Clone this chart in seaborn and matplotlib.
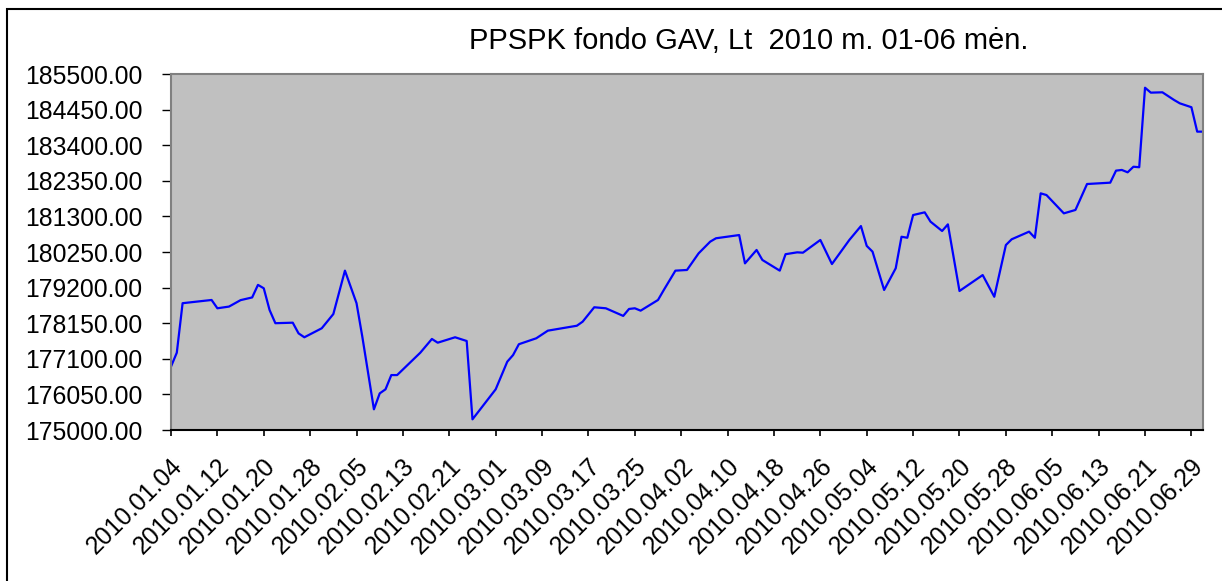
import matplotlib
matplotlib.use("Agg")
import matplotlib.pyplot as plt
import matplotlib.transforms as mtransforms
from matplotlib.patches import Rectangle
import seaborn as sns
import pandas as pd
import numpy as np

# ---- data ----
dates = [
    "2010-01-04", "2010-01-05", "2010-01-06", "2010-01-11", "2010-01-12", "2010-01-14",
    "2010-01-16", "2010-01-18", "2010-01-19", "2010-01-20", "2010-01-21", "2010-01-22",
    "2010-01-25", "2010-01-26", "2010-01-27", "2010-01-30", "2010-02-01", "2010-02-03",
    "2010-02-05", "2010-02-06", "2010-02-08", "2010-02-09", "2010-02-10", "2010-02-11",
    "2010-02-12", "2010-02-16", "2010-02-18", "2010-02-19", "2010-02-22", "2010-02-24",
    "2010-02-25", "2010-03-01", "2010-03-03", "2010-03-04", "2010-03-05", "2010-03-08",
    "2010-03-10", "2010-03-15", "2010-03-16", "2010-03-18", "2010-03-20", "2010-03-23",
    "2010-03-24", "2010-03-25", "2010-03-26", "2010-03-29", "2010-03-30", "2010-04-01",
    "2010-04-03", "2010-04-05", "2010-04-07", "2010-04-08", "2010-04-12", "2010-04-13",
    "2010-04-15", "2010-04-16", "2010-04-19", "2010-04-20", "2010-04-22", "2010-04-23",
    "2010-04-26", "2010-04-28", "2010-05-01", "2010-05-03", "2010-05-04", "2010-05-05",
    "2010-05-07", "2010-05-09", "2010-05-10", "2010-05-11", "2010-05-12", "2010-05-14",
    "2010-05-15", "2010-05-17", "2010-05-18", "2010-05-20", "2010-05-24", "2010-05-26",
    "2010-05-28", "2010-05-29", "2010-06-01", "2010-06-02", "2010-06-03", "2010-06-04",
    "2010-06-07", "2010-06-09", "2010-06-11", "2010-06-15", "2010-06-16", "2010-06-17",
    "2010-06-18", "2010-06-19", "2010-06-20", "2010-06-21", "2010-06-22", "2010-06-24",
    "2010-06-26", "2010-06-27", "2010-06-29", "2010-06-30", "2010-07-01",
]
gav = [
    176870, 177280, 178740, 178835, 178590, 178640,
    178830, 178910, 179280, 179180, 178540, 178150,
    178165, 177850, 177735, 178000, 178420, 179700,
    178740, 177750, 175610, 176080, 176200, 176620,
    176620, 177280, 177685, 177575, 177735, 177625,
    175315, 176200, 177015, 177210, 177530, 177705,
    177930, 178075, 178195, 178620, 178590, 178365,
    178570, 178590, 178520, 178835, 179130, 179700,
    179720, 180210, 180555, 180655, 180750, 179915,
    180310, 180015, 179700, 180185, 180240, 180230,
    180605, 179895, 180605, 181015, 180430, 180260,
    179130, 179770, 180700, 180670, 181340, 181420,
    181145, 180870, 181065, 179100, 179570, 178930,
    180455, 180625, 180850, 180670, 181980, 181930,
    181390, 181490, 182255, 182295, 182650, 182670,
    182600, 182765, 182750, 185095, 184950, 184960,
    184735, 184635, 184520, 183800, 183800,
]
y_ticks = [175000, 176050, 177100, 178150, 179200, 180250,
           181300, 182350, 183400, 184450, 185500]
x_tick_start = "2010-01-04"
x_tick_end = "2010-06-29"
title = "PPSPK fondo GAV, Lt  2010 m. 01-06 mėn."

df = pd.DataFrame({"date": pd.to_datetime(dates), "gav": gav})

sns.set_style("white")
plt.rcParams["font.family"] = ["Liberation Sans", "DejaVu Sans"]
plt.rcParams["text.color"] = "black"
plt.rcParams["xtick.color"] = "black"
plt.rcParams["ytick.color"] = "black"
plt.rcParams["xtick.labelcolor"] = "black"
plt.rcParams["ytick.labelcolor"] = "black"

W, H = 1222, 581
fig = plt.figure(figsize=(W / 100, H / 100), dpi=100)
ax = fig.add_axes([171 / W, 1 - 430 / H, (1203 - 171) / W, (430 - 74) / H])
ax.set_facecolor("#C0C0C0")

sns.lineplot(data=df, x="date", y="gav", ax=ax, color="#0000FF", linewidth=1.6)

ax.set_xlim(pd.Timestamp("2010-01-04"), pd.Timestamp("2010-07-01"))
ax.set_ylim(y_ticks[0], y_ticks[-1])

ax.set_yticks(y_ticks)
ax.set_yticklabels([f"{v:.2f}" for v in y_ticks], fontsize=17.8, color="black")

xt = pd.date_range(x_tick_start, x_tick_end, freq="8D")
ax.set_xticks(xt)
ax.set_xticklabels([d.strftime("%Y.%m.%d") for d in xt], fontsize=17.8, color="black",
                   rotation=45, ha="right", va="center", rotation_mode="anchor")

ax.tick_params(axis="y", direction="out", length=6.5, width=1, color="black",
               pad=14, left=True)
ax.tick_params(axis="x", direction="out", length=4.5, width=1.2, color="black",
               pad=20, bottom=True)

offset = mtransforms.ScaledTranslation(8 / 100, 2 / 100, fig.dpi_scale_trans)
for lab in ax.get_xticklabels():
    lab.set_transform(lab.get_transform() + offset)

ax.set_xlabel("")
ax.set_ylabel("")
ax.grid(False)

for side in ["top", "right", "left"]:
    ax.spines[side].set_color("#808080")
    ax.spines[side].set_linewidth(1.5)
ax.spines["bottom"].set_color("black")
ax.spines["bottom"].set_linewidth(1.5)

fig.text(749 / W, 1 - 41 / H, title, ha="center", va="center", fontsize=21, color="black")

# outer chart-area border (top and left visible)
fig.add_artist(Rectangle((7 / W, -0.1), 2.0, 1 - 9 / H + 0.1, transform=fig.transFigure,
                         fill=False, edgecolor="black", linewidth=1.5))

fig.savefig("out.png", dpi=100)
